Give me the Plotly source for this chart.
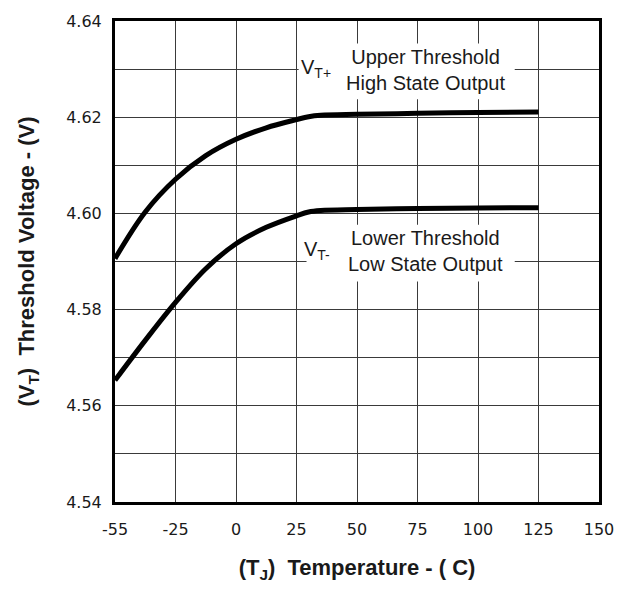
import numpy as np
import plotly.graph_objects as go

# Temperature tick labels (equally spaced on chart)
tick_temps = [-55, -25, 0, 25, 50, 75, 100, 125, 150]
tick_labels = ["-55", "-25", "0", "25", "50", "75", "100", "125", "150"]

temps = [-55, -40, -25, -12.5, 0, 12.5, 25, 30, 35, 50, 75, 100, 125]
upper_vt = [4.5906, 4.6003, 4.6071, 4.6120, 4.6154, 4.6178, 4.6195, 4.6201, 4.6204, 4.6206, 4.6208, 4.6210, 4.6211]
lower_vt = [4.5653, 4.5736, 4.5815, 4.5885, 4.5937, 4.5971, 4.5995, 4.6003, 4.6006, 4.6008, 4.6010, 4.6011, 4.6012]

y_ticks = [4.54, 4.56, 4.58, 4.60, 4.62, 4.64]

# chart uses equal spacing between tick labels -> piecewise scale
tick_pos = list(range(len(tick_temps)))
def xscale(t):
    return np.interp(t, tick_temps, tick_pos)

FONT = "Liberation Sans, Arial, sans-serif"
TICKFONT = "DejaVu Sans, sans-serif"
TXT = "#1a1a1a"
GRID = "#3a3a3a"

fig = go.Figure()
for vals in (upper_vt, lower_vt):
    fig.add_trace(go.Scatter(
        x=xscale(temps), y=vals, mode="lines",
        line=dict(color="black", width=5, shape="spline", smoothing=1.0),
        showlegend=False, hoverinfo="skip"))

fig.update_xaxes(
    range=[0, 8], tickvals=tick_pos, ticktext=tick_labels,
    showgrid=True, gridcolor=GRID, gridwidth=1,
    showline=True, mirror=True, linecolor="black", linewidth=3,
    ticks="outside", ticklen=11, tickcolor="rgba(0,0,0,0)", zeroline=False,
    tickfont=dict(family=TICKFONT, size=16, color=TXT),
    title=dict(text="<b>(T<sub>J</sub>)  Temperature - ( C)</b>",
               font=dict(family=FONT, size=22, color=TXT), standoff=22),
)
fig.update_yaxes(
    range=[4.54, 4.64], tickvals=y_ticks, ticktext=[f"{v:.2f}" for v in y_ticks],
    showgrid=True, gridcolor=GRID, gridwidth=1,
    minor=dict(dtick=0.01, tick0=4.54, showgrid=True, gridcolor=GRID, gridwidth=1, ticks=""),
    showline=True, mirror=True, linecolor="black", linewidth=3,
    ticks="outside", ticklen=7, tickcolor="rgba(0,0,0,0)", zeroline=False,
    tickfont=dict(family=TICKFONT, size=16, color=TXT),
    title=dict(text="<b>(V<sub>T</sub>)  Threshold Voltage - (V)</b>",
               font=dict(family=FONT, size=22, color=TXT), standoff=26),
)

# white label boxes over the grid
def px2x(px):
    return (px - 115) / 61.6
def py2y(py):
    return 4.64 - (py - 19.4) / 4830

for (x0, x1, y0, y1) in [(302, 522, 42, 98), (310, 522, 224, 281)]:
    fig.add_shape(type="rect", xref="x", yref="y",
                  x0=px2x(x0), x1=px2x(x1), y0=py2y(y1), y1=py2y(y0),
                  fillcolor="white", line=dict(width=0), layer="between")

fig.add_annotation(x=px2x(320), y=py2y(67), xref="x", yref="y", showarrow=False,
                   text="V<sub>T+</sub>", font=dict(family=FONT, size=20, color=TXT))
fig.add_annotation(x=px2x(431), y=py2y(69), xref="x", yref="y", showarrow=False,
                   text="Upper Threshold<br>High State Output",
                   font=dict(family=FONT, size=20, color=TXT))
fig.add_annotation(x=px2x(321), y=py2y(250), xref="x", yref="y", showarrow=False,
                   text="V<sub>T-</sub>", font=dict(family=FONT, size=20, color=TXT))
fig.add_annotation(x=px2x(431), y=py2y(250), xref="x", yref="y", showarrow=False,
                   text="Lower Threshold<br>Low State Output",
                   font=dict(family=FONT, size=20, color=TXT))

fig.update_layout(
    width=626, height=590,
    margin=dict(l=115, r=18, t=19, b=88),
    paper_bgcolor="white", plot_bgcolor="white",
)

fig.write_html("out.html")
